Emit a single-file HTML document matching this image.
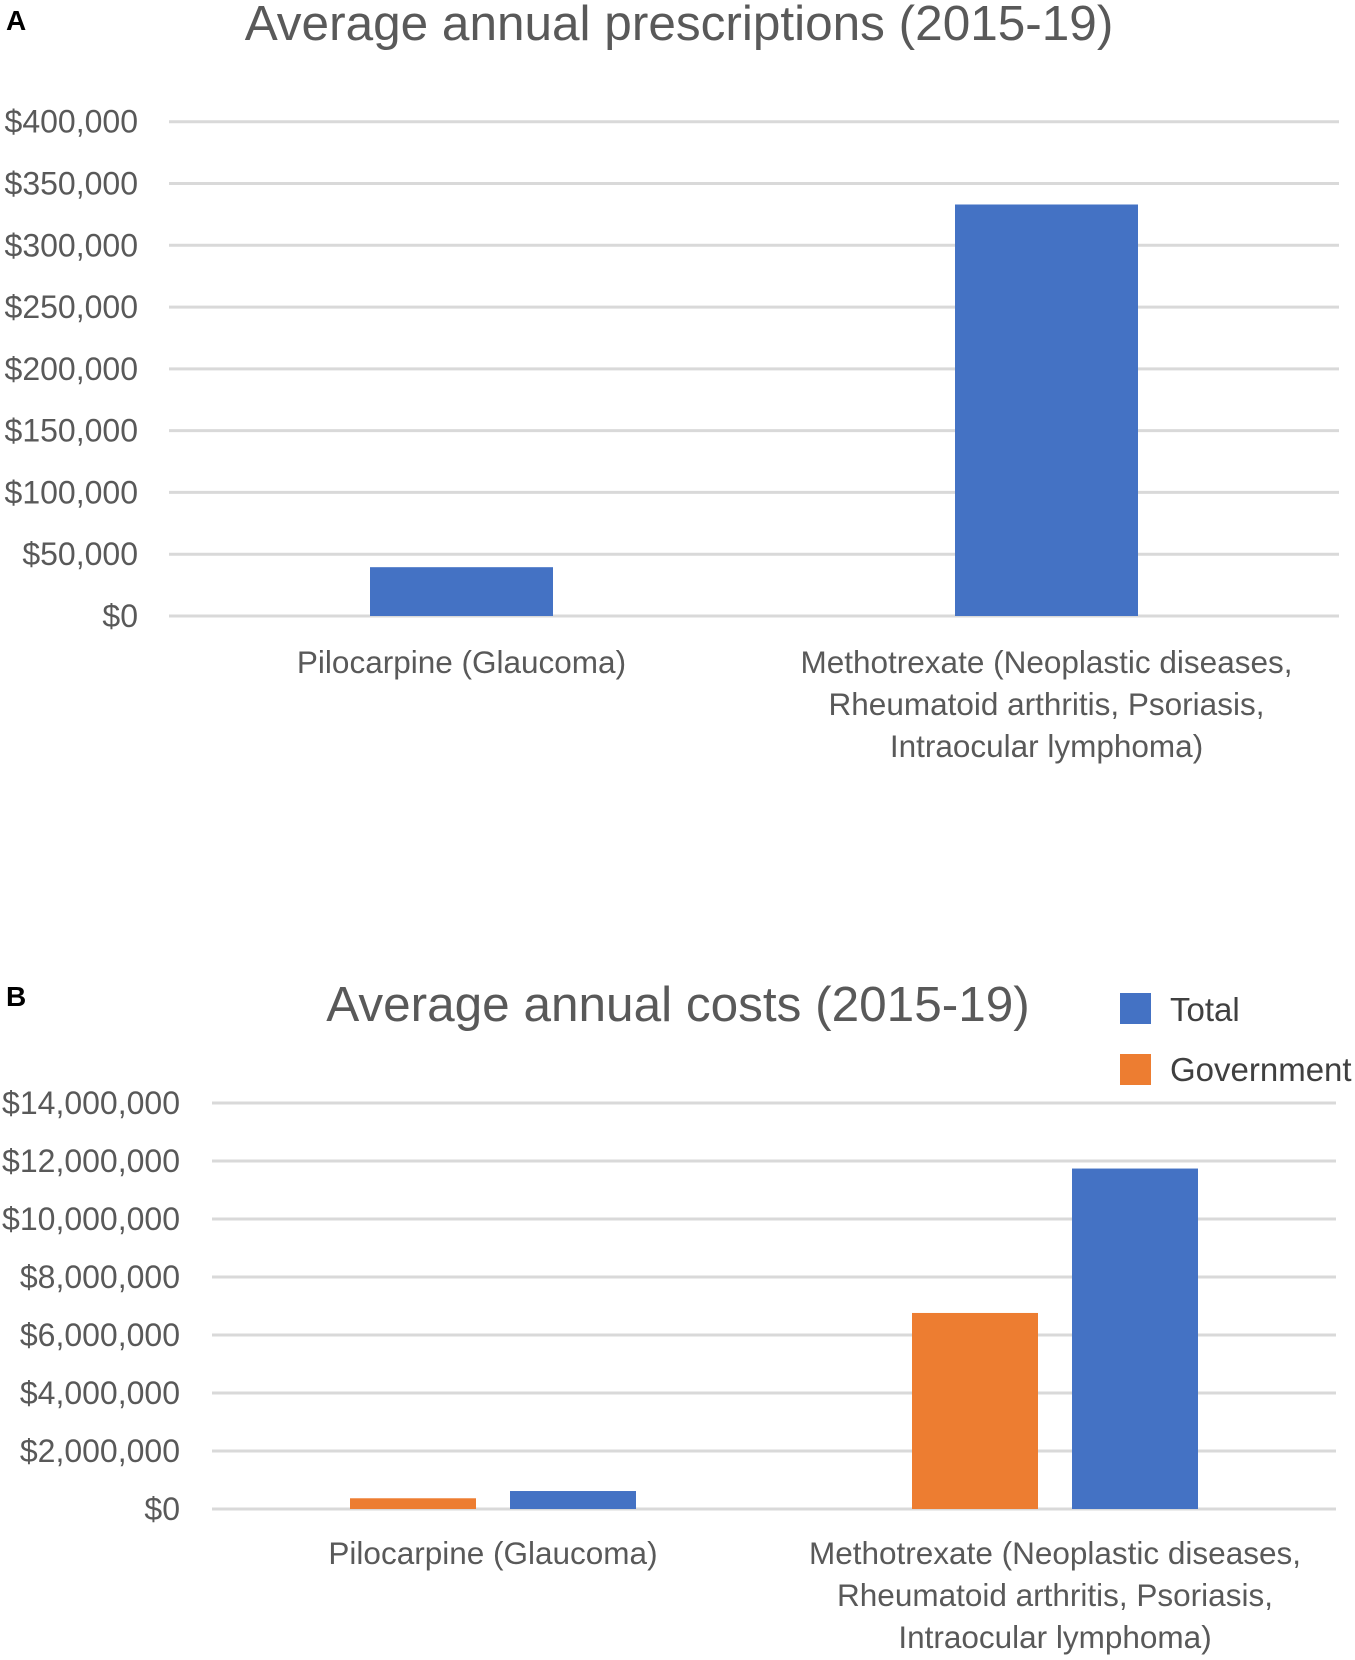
<!DOCTYPE html>
<html><head><meta charset="utf-8"><style>
html,body{margin:0;padding:0;background:#fff;}
svg{display:block;font-family:"Liberation Sans",sans-serif;}
</style></head><body>
<svg id="fig" width="1355" height="1660" viewBox="0 0 1355 1660">
<text x="6" y="30" font-size="28" font-weight="bold" fill="#000">A</text>
<text x="6" y="1006" font-size="28" font-weight="bold" fill="#000">B</text>
<text x="679" y="40" font-size="49.5" fill="#595959" text-anchor="middle">Average annual prescriptions (2015-19)</text>
<text x="678" y="1021" font-size="49.5" fill="#595959" text-anchor="middle">Average annual costs (2015-19)</text>
<rect x="1120" y="993" width="31" height="31" fill="#4472C4"/>
<text x="1170" y="1021" font-size="33" fill="#404040">Total</text>
<rect x="1120" y="1054" width="31" height="31" fill="#ED7D31"/>
<text x="1170" y="1081" font-size="33" fill="#404040">Government</text>
<g id="ga"></g><g id="gb"></g>
</svg>
<script>
const catsA = [["Pilocarpine (Glaucoma)"],["Methotrexate (Neoplastic diseases,","Rheumatoid arthritis, Psoriasis,","Intraocular lymphoma)"]];
const prescriptions = [39500, 333000];
const ticksA = [0,50000,100000,150000,200000,250000,300000,350000,400000];
const tickLabelsA = ["$0","$50,000","$100,000","$150,000","$200,000","$250,000","$300,000","$350,000","$400,000"];
const catsB = catsA;
const government = [370000, 6760000];
const total = [620000, 11740000];
const ticksB = [0,2000000,4000000,6000000,8000000,10000000,12000000,14000000];
const tickLabelsB = ["$0","$2,000,000","$4,000,000","$6,000,000","$8,000,000","$10,000,000","$12,000,000","$14,000,000"];

const NS="http://www.w3.org/2000/svg";
function mk(parent,tag,attrs){const e=document.createElementNS(NS,tag);for(const k in attrs)e.setAttribute(k,attrs[k]);parent.appendChild(e);return e;}

function drawChart(g, cfg){
  const y=v=>cfg.y0-(v/cfg.max)*(cfg.y0-cfg.yTop);
  const bandW=(cfg.x1-cfg.x0)/cfg.cats.length;
  const cx=i=>cfg.x0+bandW*(i+0.5);
  cfg.ticks.forEach((t,i)=>{
    const l=mk(g,"line",{x1:cfg.x0,x2:cfg.x1,y1:y(t),y2:y(t),stroke:"#d9d9d9","stroke-width":3});
    
    
    const tx=mk(g,"text",{x:cfg.labelX,y:y(t)+11,"font-size":32,fill:"#595959","text-anchor":"end"});
    tx.textContent=cfg.tickLabels[i];
    
    
  });
  cfg.series.forEach((s,si)=>{
    s.values.forEach((v,i)=>{
      const x=cx(i)+s.offset-cfg.barW/2;
      const r=mk(g,"rect",{x:x,y:y(v),width:cfg.barW,height:y(0)-y(v),fill:s.color});
      
      
    });
  });
  cfg.cats.forEach((lines,i)=>{
    lines.forEach((ln,j)=>{
      const t=mk(g,"text",{x:cx(i),y:cfg.catY+j*42,"font-size":31.5,fill:"#595959","text-anchor":"middle"});
      t.textContent=ln;
      
      
    });
  });
}
drawChart(document.getElementById("ga"),{x0:169,x1:1339,y0:616,yTop:121.7,max:400000,ticks:ticksA,tickLabels:tickLabelsA,labelX:138,cats:catsA,barW:183,catY:673,
  series:[{name:"prescriptions",values:prescriptions,color:"#4472C4",offset:0}]});
drawChart(document.getElementById("gb"),{x0:212,x1:1336,y0:1509,yTop:1103,max:14000000,ticks:ticksB,tickLabels:tickLabelsB,labelX:180,cats:catsB,barW:126,catY:1564,
  series:[{name:"government",values:government,color:"#ED7D31",offset:-80},{name:"total",values:total,color:"#4472C4",offset:80}]});
</script>
</body></html>
